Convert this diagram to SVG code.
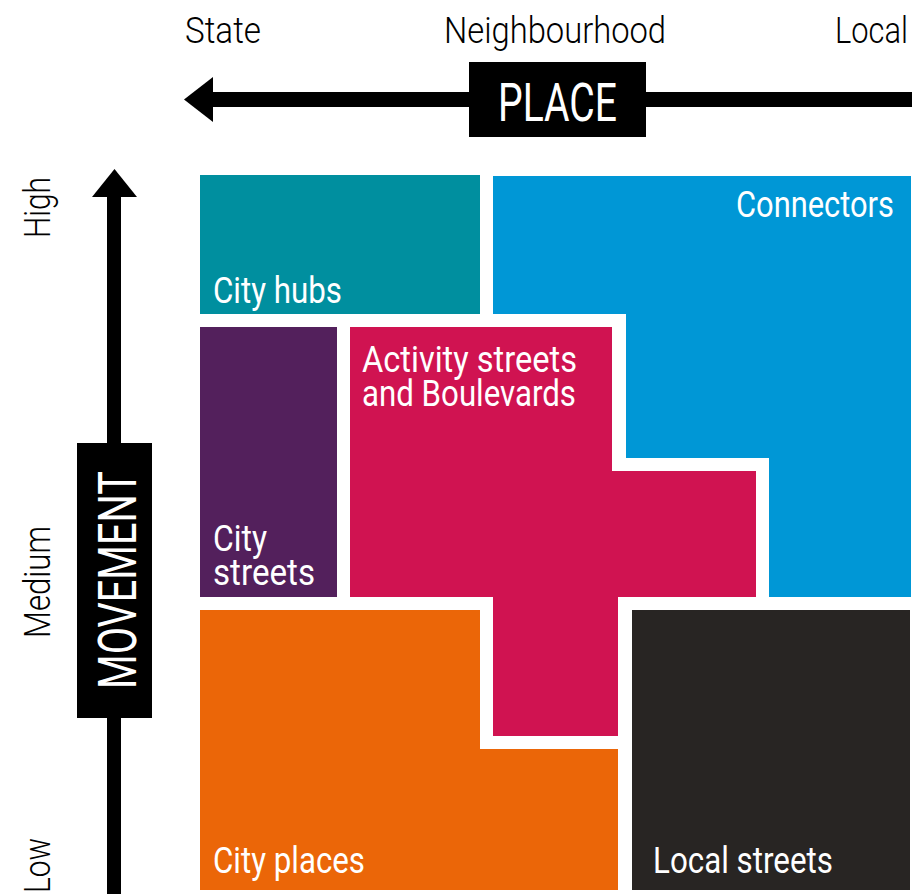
<svg xmlns="http://www.w3.org/2000/svg" width="922" height="894" viewBox="0 0 922 894">
<style>
.lbl{font-family:Roboto,"Liberation Sans",sans-serif;font-size:36px;fill:#fff;}
.axl{font-family:Roboto,"Liberation Sans",sans-serif;font-size:36px;font-weight:300;fill:#000;}
.big{font-family:Roboto,"Liberation Sans",sans-serif;font-size:54px;fill:#fff;}
</style>
<rect width="922" height="894" fill="#fff"/>
<g id="axes">
  <rect x="213" y="92" width="699" height="15" fill="#000"/>
  <polygon points="184,99.5 213,77 213,122" fill="#000"/>
  <rect x="107" y="197" width="14" height="697" fill="#000"/>
  <polygon points="114.5,169 92,197 137,197" fill="#000"/>
</g>
<g id="place-label">
  <rect x="469" y="62" width="177" height="75" fill="#000"/>
  <text class="big" x="498" y="121" textLength="119" lengthAdjust="spacingAndGlyphs">PLACE</text>
</g>
<g id="movement-label">
  <rect x="77" y="443" width="75" height="275" fill="#000"/>
  <text class="big" transform="translate(136,689) rotate(-90)" x="0" y="0" textLength="218" lengthAdjust="spacingAndGlyphs">MOVEMENT</text>
</g>
<g id="scale-labels">
  <text class="axl" x="185" y="43" textLength="76" lengthAdjust="spacingAndGlyphs">State</text>
  <text class="axl" x="444" y="43" textLength="222" lengthAdjust="spacingAndGlyphs">Neighbourhood</text>
  <text class="axl" x="835" y="43" textLength="73" lengthAdjust="spacingAndGlyphs">Local</text>
  <text class="axl" transform="translate(50,238) rotate(-90)" textLength="61" lengthAdjust="spacingAndGlyphs">High</text>
  <text class="axl" transform="translate(50,638) rotate(-90)" textLength="112" lengthAdjust="spacingAndGlyphs">Medium</text>
  <text class="axl" transform="translate(50,893) rotate(-90)" textLength="55" lengthAdjust="spacingAndGlyphs">Low</text>
</g>
<g id="city-hubs">
  <rect x="200" y="175" width="280" height="139" fill="#008F9F"/>
  <text class="lbl" x="213" y="303" textLength="129" lengthAdjust="spacingAndGlyphs">City hubs</text>
</g>
<g id="connectors">
  <polygon points="493,176 911,176 911,597 769,597 769,458 626,458 626,314 493,314" fill="#0097D6"/>
  <text class="lbl" x="736" y="217" textLength="158" lengthAdjust="spacingAndGlyphs">Connectors</text>
</g>
<g id="city-streets">
  <rect x="200" y="327" width="137" height="270" fill="#53205C"/>
  <text class="lbl"><tspan x="213" y="551" textLength="54" lengthAdjust="spacingAndGlyphs">City</tspan><tspan x="213" y="585" textLength="102" lengthAdjust="spacingAndGlyphs">streets</tspan></text>
</g>
<g id="activity-streets">
  <polygon points="350,327 612,327 612,471 756,471 756,597 618,597 618,736 493,736 493,597 350,597" fill="#D01351"/>
  <text class="lbl"><tspan x="362" y="372" textLength="215" lengthAdjust="spacingAndGlyphs">Activity streets</tspan><tspan x="362" y="406" textLength="214" lengthAdjust="spacingAndGlyphs">and Boulevards</tspan></text>
</g>
<g id="city-places">
  <polygon points="200,610 480,610 480,749 618,749 618,890 200,890" fill="#EB6608"/>
  <text class="lbl" x="213" y="873" textLength="152" lengthAdjust="spacingAndGlyphs">City places</text>
</g>
<g id="local-streets">
  <rect x="632" y="610" width="278" height="280" fill="#282523"/>
  <text class="lbl" x="653" y="873" textLength="180" lengthAdjust="spacingAndGlyphs">Local streets</text>
</g>
</svg>
